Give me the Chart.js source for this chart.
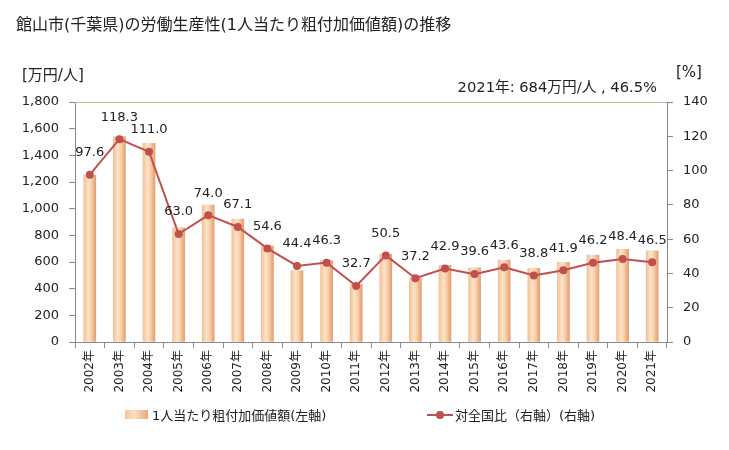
<!DOCTYPE html>
<html><head><meta charset="utf-8">
<script src="https://cdn.jsdelivr.net/npm/chart.js@4/dist/chart.umd.min.js"></script>
<style>
html,body{margin:0;padding:0;background:#fff;}
#wrap{position:relative;width:729px;height:450px;font-family:"DejaVu Sans","Noto Sans CJK JP",sans-serif;color:#222;}
canvas{position:absolute;left:0;top:0;}
.t{position:absolute;white-space:nowrap;font-family:"DejaVu Sans","Noto Sans CJK JP",sans-serif;}
</style></head><body>
<div id="wrap">
<canvas id="c" width="729" height="450"></canvas>
<div class="t" style="left:16px;top:11px;font-size:16px;">館山市(千葉県)の労働生産性(1人当たり粗付加価値額)の推移</div>
<div class="t" style="left:22px;top:63px;font-size:15px;">[万円/人]</div>
<div class="t" style="left:676px;top:63px;font-size:15px;">[%]</div>
<div class="t" style="right:72px;top:75px;font-size:14.7px;">2021年: 684万円/人 , 46.5%</div>
<div class="t" style="left:125px;top:410px;width:23px;height:9px;background:linear-gradient(to right,#f3c59a,#fde0c4 40%,#e9a77a);"></div>
<div class="t" style="left:152px;top:405px;font-size:13px;">1人当たり粗付加価値額(左軸)</div>
<div class="t" style="left:427px;top:414px;width:26px;height:2px;background:#c0504d;"></div>
<div class="t" style="left:436px;top:411px;width:8px;height:8px;border-radius:50%;background:#c0504d;"></div>
<div class="t" style="left:455px;top:405px;font-size:13px;">対全国比（右軸）(右軸)</div>
</div>
<script>
const years = ["2002年","2003年","2004年","2005年","2006年","2007年","2008年","2009年","2010年","2011年","2012年","2013年","2014年","2015年","2016年","2017年","2018年","2019年","2020年","2021年"];
const productivity = [1252,1540,1490,857,1027,922,722,535,610,432,657,482,575,557,615,552,597,652,695,684];
const ratio = [97.6,118.3,111.0,63.0,74.0,67.1,54.6,44.4,46.3,32.7,50.5,37.2,42.9,39.6,43.6,38.8,41.9,46.2,48.4,46.5];
const leftTicks = [0,200,400,600,800,1000,1200,1400,1600,1800];
const rightTicks = [0,20,40,60,80,100,120,140];

const FONT = "'DejaVu Sans','Noto Sans CJK JP',sans-serif";

function barGrad(ctx){
  const chart = ctx.chart;
  const xs = chart.scales.x;
  if(!xs || ctx.dataIndex === undefined) return '#f6c9a0';
  const x = xs.getPixelForValue(ctx.dataIndex);
  if(!isFinite(x)) return '#f6c9a0';
  const w = 12;
  const g = chart.ctx.createLinearGradient(x - w/2, 0, x + w/2, 0);
  g.addColorStop(0, '#f2c094');
  g.addColorStop(0.35, '#fde2c8');
  g.addColorStop(0.6, '#f9d2ae');
  g.addColorStop(1, '#e39e70');
  return g;
}

const labelPlugin = {
  id:'lbl',
  afterDatasetsDraw(chart){
    const meta = chart.getDatasetMeta(1);
    const c = chart.ctx;
    c.save();
    c.font = "13px " + FONT;
    c.fillStyle = '#222';
    c.textAlign = 'center';
    c.textBaseline = 'middle';
    meta.data.forEach((p,i)=>{
      c.fillText(ratio[i].toFixed(1), p.x, p.y - 22);
    });
    c.restore();
  }
};
const topLine = {
  id:'topline',
  beforeDatasetsDraw(chart){
    const a = chart.chartArea, c = chart.ctx;
    c.save();
    c.strokeStyle = '#c9bb93';
    c.lineWidth = 1;
    c.beginPath(); c.moveTo(a.left, a.top + 0.5); c.lineTo(a.right, a.top + 0.5); c.stroke();
    c.restore();
  }
};

const chart = new Chart(document.getElementById('c'), {
  data:{
    labels: years,
    datasets:[
      {type:'bar', data: productivity, yAxisID:'y', backgroundColor: barGrad, barThickness:12, order:2},
      {type:'line', data: ratio, yAxisID:'y1', borderColor:'#c0504d', backgroundColor:'#c0504d', borderWidth:2, pointRadius:4, pointHoverRadius:4, pointBackgroundColor:'#c0504d', pointBorderWidth:0, order:1}
    ]
  },
  options:{
    responsive:false, animation:false,
    layout:{padding:{left:0,right:0,top:102,bottom:58}},
    plugins:{legend:{display:false}, tooltip:{enabled:false}},
    scales:{
      x:{
        offset:true,
        grid:{display:true, offset:true, drawOnChartArea:false, tickLength:6, color:'#888'},
        border:{color:'#888'},
        ticks:{minRotation:90, maxRotation:90, autoSkip:false, color:'#222', font:{size:12, family:FONT}, padding:2},
        afterFit(s){ s.height = 50; }
      },
      y:{
        position:'left', min:0, max:1800,
        afterBuildTicks(s){ s.ticks = leftTicks.map(v=>({value:v})); },
        grid:{drawOnChartArea:false, tickLength:6, color:'#888'},
        border:{color:'#888'},
        ticks:{color:'#222', font:{size:13, family:FONT}, padding:10, callback:v=>v.toLocaleString('en-US')},
        afterFit(s){ s.width = 75; }
      },
      y1:{
        position:'right', min:0, max:140,
        afterBuildTicks(s){ s.ticks = rightTicks.map(v=>({value:v})); },
        grid:{drawOnChartArea:false, tickLength:6, color:'#888'},
        border:{color:'#888'},
        ticks:{color:'#222', font:{size:13, family:FONT}, padding:10},
        afterFit(s){ s.width = 62; }
      }
    }
  },
  plugins:[topLine, labelPlugin]
});
chart.update();
</script>
</body></html>
